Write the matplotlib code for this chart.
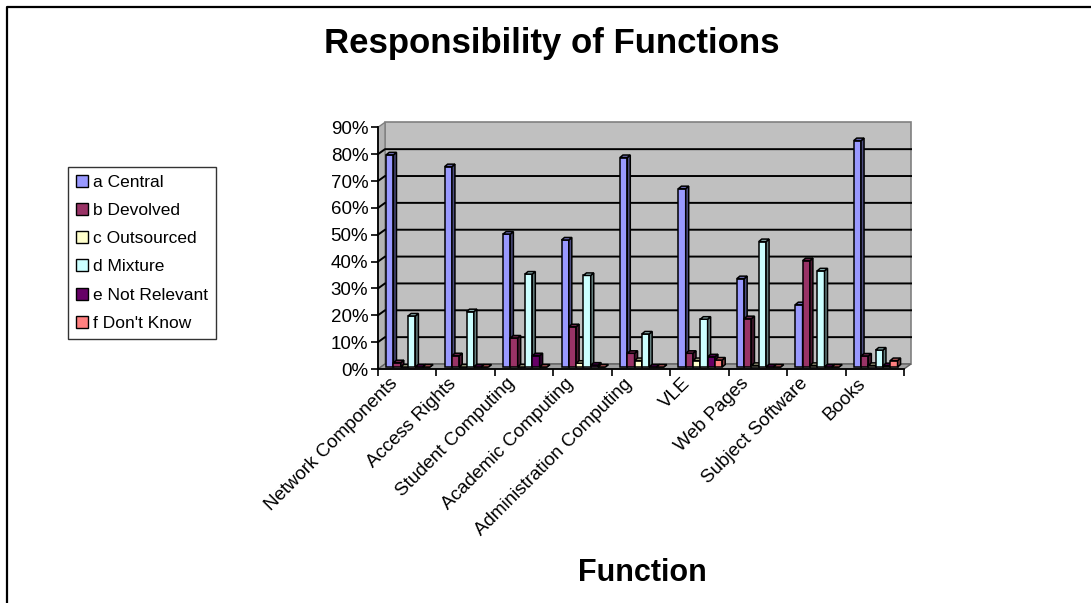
import matplotlib.pyplot as plt
import matplotlib.colors as mcolors
from matplotlib.patches import Polygon, Rectangle, Patch
from matplotlib.lines import Line2D

plt.rcParams['font.family'] = ['Liberation Sans', 'DejaVu Sans']

# survey results, percent of respondents per answer
categories = ["Network Components", "Access Rights", "Student Computing",
              "Academic Computing", "Administration Computing", "VLE",
              "Web Pages", "Subject Software", "Books"]
series_names = ["a Central", "b Devolved", "c Outsourced", "d Mixture",
                "e Not Relevant", "f Don't Know"]
central = [79, 74.6, 49.5, 47.3, 78, 66.4, 32.9, 23.2, 84.3]
devolved = [1.6, 4.2, 10.8, 15, 5.1, 5.1, 18, 39.6, 4.1]
outsourced = [0, 0, 0, 1.4, 2.4, 2.4, 0.6, 0.6, 0.6]
mixture = [19, 20.6, 34.6, 34.1, 12.3, 17.8, 46.7, 35.8, 6.3]
not_relevant = [0, 0, 4.2, 0.7, 0, 3.8, 0, 0, 0.5]
dont_know = [0, 0, 0, 0, 0, 2.6, 0, 0, 2.4]
series = [central, devolved, outsourced, mixture, not_relevant, dont_know]
colors = ["#9999FF", "#993366", "#FFFFCC", "#CCFFFF", "#660066", "#FF8080"]
yticks = list(range(0, 91, 10))

W, H = 1091, 603
fig = plt.figure(figsize=(W / 100, H / 100), dpi=100)
ax = fig.add_axes([378 / W, (H - 369) / H, 526 / W, 241.7 / H])
ax.set_xlim(0, 9)
ax.set_ylim(0, 90)

# pixel -> data unit helpers for the fake 3D depth
PX_X = 526 / 9
PX_Y = 241.7 / 90


def dx(px):
    return px / PX_X


def dy(px):
    return px / PX_Y


def shade(c, f):
    r, g, b = mcolors.to_rgb(c)
    return (r * f, g * f, b * f)


# walls and floor
wx, wy = dx(7), dy(5)
ax.add_patch(Rectangle((wx, wy), 9, 90, facecolor="#C0C0C0", edgecolor="#808080",
                       lw=1.2, clip_on=False, zorder=0))
ax.add_patch(Polygon([(0, 0), (wx, wy), (wx, 90 + wy), (0, 90)], closed=True,
                     facecolor="#B4B4B4", edgecolor="#808080", lw=1,
                     clip_on=False, zorder=0))
ax.add_patch(Polygon([(0, 0), (9, 0), (9 + wx, wy), (wx, wy)], closed=True,
                     facecolor="#A0A0A0", edgecolor="#606060", lw=1,
                     clip_on=False, zorder=0.5))
for v in yticks[1:-1]:
    ax.plot([0, wx, 9 + wx], [v, v + wy, v + wy], color="black", lw=1.4,
            clip_on=False, zorder=1)

# columns
bw = 0.125
bottom = dy(2)
ddx, ddy = dx(3), dy(2.5)
for j, (vals, col) in enumerate(zip(series, colors)):
    xs = [i + 0.14 + j * bw for i in range(len(categories))]
    z = 3 + j * 0.1
    ax.bar(xs, vals, width=bw, bottom=bottom, align="edge", color=col,
           edgecolor="black", lw=1.1, zorder=z, clip_on=False)
    for x, v in zip(xs, vals):
        top = bottom + v
        ax.add_patch(Polygon([(x + bw, bottom), (x + bw, top),
                              (x + bw + ddx, top + ddy), (x + bw + ddx, bottom + ddy)],
                             closed=True, facecolor=shade(col, 0.5), edgecolor="black",
                             lw=1.1, zorder=z + 0.01, clip_on=False))
        ax.add_patch(Polygon([(x, top), (x + bw, top), (x + bw + ddx, top + ddy),
                              (x + ddx, top + ddy)],
                             closed=True, facecolor=shade(col, 0.75), edgecolor="black",
                             lw=1.1, zorder=z + 0.02, clip_on=False))

# axes
for s in ["top", "right"]:
    ax.spines[s].set_visible(False)
for s in ["left", "bottom"]:
    ax.spines[s].set_color("black")
    ax.spines[s].set_linewidth(1.3)
    ax.spines[s].set_zorder(2)
ax.set_facecolor("none")
ax.set_yticks(yticks, labels=[f"{v}%" for v in yticks])
ax.set_xticks(range(10), labels=[""] * 10)
ax.tick_params(axis="both", direction="out", length=5, width=1.2, color="black",
               labelsize=13.5, pad=2)
for i, name in enumerate(categories):
    ax.text(i + 0.5 - 0.2, -4.5, name, rotation=45, rotation_mode="anchor",
            ha="right", va="center", fontsize=13.5)

handles = [Patch(facecolor=c, edgecolor="black", lw=1) for c in colors]
leg = fig.legend(handles, series_names, loc="upper left",
                 bbox_to_anchor=(68 / W, 1 - 167 / H), bbox_transform=fig.transFigure,
                 frameon=True, fancybox=False, edgecolor="black", fontsize=12.5,
                 handlelength=0.7, handleheight=0.7, handletextpad=0.3,
                 labelspacing=0.75, borderpad=0.45, borderaxespad=0)
leg.get_frame().set_linewidth(1)

fig.text(552 / W, 1 - 44 / H, "Responsibility of Functions", ha="center",
         va="center", fontsize=25, fontweight="bold")
fig.text(642 / W, 1 - 573 / H, "Function", ha="center", va="center",
         fontsize=22, fontweight="bold")

# chart border (left and top edges)
fig.add_artist(Line2D([7 / W, 7 / W, 1], [0, 1 - 7 / H, 1 - 7 / H], color="black",
                      lw=1.6, transform=fig.transFigure))

fig.savefig("out.png", dpi=100)
